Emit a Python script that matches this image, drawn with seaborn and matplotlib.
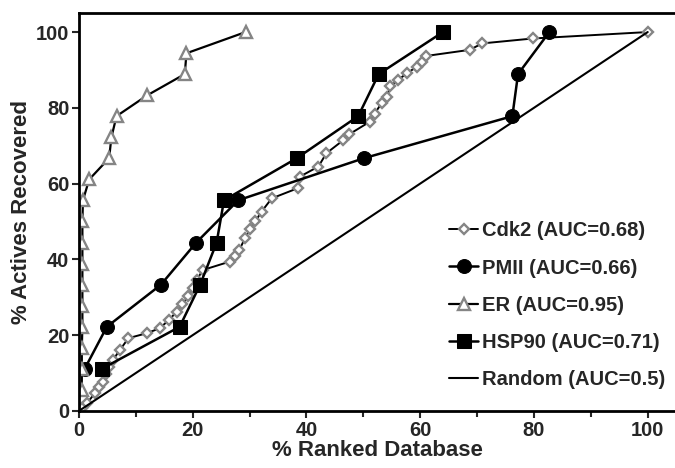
import matplotlib
matplotlib.use("Agg")
import matplotlib.pyplot as plt
import seaborn as sns
from matplotlib.ticker import MultipleLocator

# % ranked database vs % actives recovered
cdk2_x = [0.6, 1.4, 2.8, 3.6, 4.3, 4.8, 5.2, 6.0, 7.2, 8.7, 11.9, 14.2, 15.8,
          17.2, 18.2, 19.2, 20.0, 20.7, 21.8, 26.5, 27.4, 28.2, 29.2, 30.1,
          31.0, 32.1, 33.9, 38.5, 38.8, 42.1, 43.5, 46.5, 47.5, 51.1, 52.0,
          53.2, 54.2, 54.7, 56.1, 57.6, 59.4, 60.4, 61.1, 68.7, 70.9, 79.8, 100.0]
cdk2_y = [0.8, 2.0, 4.7, 6.2, 7.7, 9.8, 11.7, 13.5, 16.1, 19.2, 20.5, 21.8, 24.0,
          26.2, 28.2, 30.2, 32.5, 34.6, 37.2, 39.4, 41.0, 42.5, 45.6, 48.0,
          50.0, 52.6, 56.1, 58.8, 61.8, 64.5, 68.0, 71.5, 73.0, 76.3, 78.5,
          81.2, 82.9, 85.7, 87.3, 89.1, 90.8, 92.2, 93.7, 95.3, 97.0, 98.3, 100.0]

pmii_x = [1.0, 4.9, 14.4, 20.6, 28.0, 50.1, 76.2, 77.2, 82.7]
pmii_y = [11.1, 22.2, 33.3, 44.4, 55.6, 66.7, 77.8, 88.9, 100.0]

er_x = [0.5, 0.5, 0.5, 0.6, 0.6, 0.6, 0.6, 0.6, 0.6, 0.7, 1.8, 5.3, 5.7,
        6.6, 12.0, 18.6, 18.9, 29.3]
er_y = [5.6, 11.1, 16.7, 22.2, 27.8, 33.3, 38.9, 44.4, 50.0, 55.6, 61.1,
        66.7, 72.2, 77.8, 83.3, 88.9, 94.4, 100.0]

hsp90_x = [4.0, 17.7, 21.3, 24.2, 25.5, 38.3, 49.1, 52.7, 64.0]
hsp90_y = [11.1, 22.2, 33.3, 44.4, 55.6, 66.7, 77.8, 88.9, 100.0]

random_x = [0, 100]
random_y = [0, 100]

GRAY = "#858585"

sns.set_style("white")
plt.rcParams["font.family"] = ["Liberation Sans", "DejaVu Sans"]
plt.rcParams["font.weight"] = "bold"

fig = plt.figure(figsize=(6.75, 4.68), dpi=100)
ax = fig.add_axes([0.117, 0.122, 0.883, 0.85])

common = dict(sort=False, estimator=None, color="black", ax=ax)

sns.lineplot(x=cdk2_x, y=cdk2_y, linewidth=1.4, marker="D", markersize=5.5,
             markerfacecolor="white", markeredgecolor=GRAY, markeredgewidth=1.7,
             label="Cdk2 (AUC=0.68)", **common)
sns.lineplot(x=pmii_x, y=pmii_y, linewidth=1.8, marker="o", markersize=10,
             markerfacecolor="black", markeredgecolor="black",
             label="PMII (AUC=0.66)", **common)
sns.lineplot(x=er_x, y=er_y, linewidth=1.6, marker="^", markersize=8.5,
             markerfacecolor="white", markeredgecolor=GRAY, markeredgewidth=1.7,
             label="ER (AUC=0.95)", **common)
sns.lineplot(x=hsp90_x, y=hsp90_y, linewidth=1.8, marker="s", markersize=10,
             markerfacecolor="black", markeredgecolor="black",
             label="HSP90 (AUC=0.71)", **common)
sns.lineplot(x=random_x, y=random_y, linewidth=1.5,
             label="Random (AUC=0.5)", **common)

ax.set_xlim(0, 104.8)
ax.set_ylim(0, 105)
ax.xaxis.set_major_locator(MultipleLocator(20))
ax.xaxis.set_minor_locator(MultipleLocator(10))
ax.yaxis.set_major_locator(MultipleLocator(20))
ax.tick_params(axis="both", which="major", direction="out", length=5, width=1.5,
               labelsize=14.5, bottom=True, left=True, pad=2)
ax.tick_params(axis="x", which="minor", direction="out", length=4, width=1.5,
               bottom=True)
for side in ["left", "bottom", "top"]:
    ax.spines[side].set_linewidth(2)
    ax.spines[side].set_color("black")
ax.spines["right"].set_visible(False)

ax.set_xlabel("% Ranked Database", fontsize=16, fontweight="bold", labelpad=0)
ax.set_ylabel("% Actives Recovered", fontsize=16, fontweight="bold", labelpad=3)

leg = ax.legend(loc="lower right", bbox_to_anchor=(1.0, 0.03), frameon=False,
                fontsize=14.5, handlelength=1.4, handletextpad=0.2,
                labelspacing=0.9, borderaxespad=0.1)
for txt in leg.get_texts():
    txt.set_fontweight("bold")

fig.savefig("out.png", dpi=100)
